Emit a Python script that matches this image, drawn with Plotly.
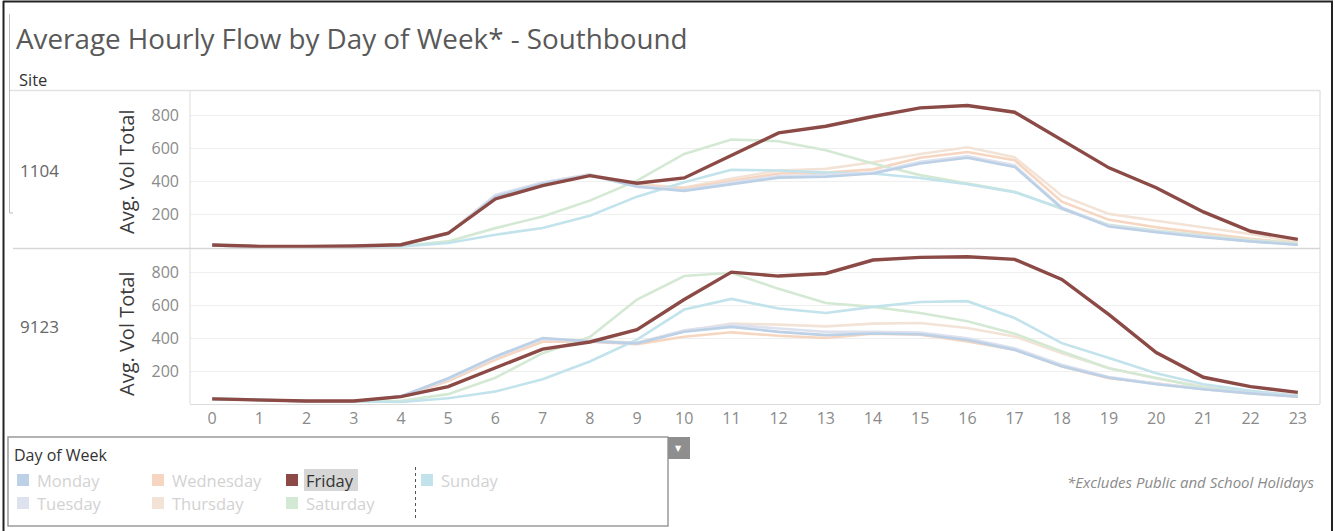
import plotly.graph_objects as go

W, H = 1335, 531

hours = list(range(24))
days = ["Monday", "Tuesday", "Wednesday", "Thursday", "Friday", "Saturday", "Sunday"]
sites = ["1104", "9123"]

site_1104 = {
    "Monday":    [15, 8, 8, 10, 20, 85, 310, 390, 440, 370, 345, 385, 425, 430, 450, 510, 545, 490, 240, 130, 95, 65, 40, 20],
    "Tuesday":   [15, 8, 8, 10, 20, 88, 320, 395, 445, 375, 350, 395, 435, 440, 455, 520, 555, 500, 245, 135, 100, 70, 42, 22],
    "Wednesday": [16, 9, 9, 11, 22, 90, 315, 392, 442, 380, 360, 405, 450, 455, 475, 545, 580, 530, 280, 170, 125, 90, 55, 28],
    "Thursday":  [16, 9, 9, 11, 22, 92, 318, 395, 445, 385, 365, 420, 468, 478, 518, 568, 608, 548, 316, 206, 165, 125, 85, 35],
    "Friday":    [18, 10, 10, 12, 20, 89, 296, 377, 437, 391, 423, 558, 695, 735, 794, 846, 860, 820, 649, 484, 364, 218, 101, 52],
    "Saturday":  [20, 10, 8, 8, 12, 40, 120, 190, 286, 407, 568, 655, 645, 590, 510, 440, 390, 340, 236, 140, 105, 75, 48, 28],
    "Sunday":    [20, 10, 8, 8, 10, 30, 80, 121, 195, 310, 397, 472, 468, 455, 450, 423, 385, 337, 240, 135, 100, 70, 40, 20],
}
site_9123 = {
    "Monday":    [30, 22, 17, 17, 48, 157, 290, 402, 382, 370, 440, 470, 440, 420, 430, 425, 390, 330, 230, 160, 120, 90, 65, 45],
    "Tuesday":   [30, 22, 17, 17, 46, 150, 285, 395, 385, 372, 450, 484, 460, 440, 440, 435, 400, 340, 240, 165, 125, 92, 68, 47],
    "Wednesday": [30, 22, 17, 17, 44, 140, 270, 380, 380, 365, 410, 437, 416, 402, 429, 422, 382, 331, 229, 157, 127, 90, 65, 45],
    "Thursday":  [30, 22, 17, 17, 44, 145, 275, 385, 385, 375, 445, 490, 484, 473, 490, 494, 463, 412, 310, 218, 157, 106, 75, 55],
    "Friday":    [31, 24, 18, 18, 45, 106, 218, 335, 378, 453, 637, 804, 780, 796, 878, 894, 898, 882, 759, 545, 314, 163, 106, 71],
    "Saturday":  [35, 25, 18, 15, 20, 60, 160, 310, 408, 637, 780, 800, 702, 616, 592, 555, 504, 429, 320, 218, 157, 100, 70, 50],
    "Sunday":    [35, 25, 18, 15, 12, 35, 76, 151, 259, 392, 576, 641, 582, 555, 592, 622, 627, 524, 371, 280, 188, 120, 80, 50],
}

colors = {
    "Monday": "#bcd0e6",
    "Tuesday": "#dde2ee",
    "Wednesday": "#f6d6c0",
    "Thursday": "#f3e3d7",
    "Friday": "#8b4a45",
    "Saturday": "#d4e9d3",
    "Sunday": "#c2e3eb",
}

title_text = "Average Hourly Flow by Day of Week* - Southbound"
footnote = "*Excludes Public and School Holidays"
y_title = "Avg. Vol Total"
y_ticks = [200, 400, 600, 800]

FONT = "Open Sans"


def px(x):
    return x / W


def py(y):
    return 1 - y / H


fig = go.Figure()

# draw order: faded days first, highlighted Friday last
order = ["Thursday", "Wednesday", "Saturday", "Sunday", "Tuesday", "Monday", "Friday"]
for i, data in enumerate([site_1104, site_9123]):
    xa = "x" if i == 0 else "x2"
    ya = "y" if i == 0 else "y2"
    for d in order:
        fig.add_trace(go.Scatter(
            x=hours, y=data[d], mode="lines", name=d, xaxis=xa, yaxis=ya,
            line=dict(color=colors[d], width=3.4 if d == "Friday" else 2.6, shape="linear"),
            showlegend=False, hoverinfo="skip",
        ))

pane_left, pane_right = 190, 1320
top_pane = (92, 248)
bot_pane = (249.5, 404)
yr = [0, 942]
xr = [-0.47, 23.47]

axis_common = dict(
    range=yr, tickvals=y_ticks, showgrid=True, gridcolor="#efefef", gridwidth=1,
    zeroline=False, showline=False, ticks="",
    tickfont=dict(family=FONT, size=16, color="#8a8a8a"), ticklabelstandoff=10,
)
fig.update_layout(
    width=W, height=H, autosize=False,
    margin=dict(l=0, r=0, t=0, b=0),
    paper_bgcolor="white", plot_bgcolor="white",
    font=dict(family=FONT),
    showlegend=False,
    xaxis=dict(domain=[px(pane_left), px(pane_right)], range=xr, showticklabels=False,
               showgrid=False, zeroline=False, showline=False, anchor="y"),
    yaxis=dict(domain=[py(top_pane[1]), py(top_pane[0])], anchor="x", **axis_common),
    xaxis2=dict(domain=[px(pane_left), px(pane_right)], range=xr, tickvals=hours,
                ticktext=[str(h) for h in hours], showgrid=False, zeroline=False,
                showline=True, linecolor="#dcdcdc", linewidth=1, ticks="",
                tickfont=dict(family=FONT, size=16, color="#8a8a8a"), anchor="y2"),
    yaxis2=dict(domain=[py(bot_pane[1]), py(bot_pane[0])], anchor="x2", **axis_common),
)

shapes = []
# outer frame
shapes.append(dict(type="line", xref="paper", yref="paper", x0=px(3.5), x1=px(3.5), y0=py(1), y1=py(531), line=dict(color="#222", width=2)))
shapes.append(dict(type="line", xref="paper", yref="paper", x0=px(3), x1=px(1333), y0=py(1.5), y1=py(1.5), line=dict(color="#222", width=2)))
shapes.append(dict(type="line", xref="paper", yref="paper", x0=px(1332), x1=px(1332), y0=py(1), y1=py(531), line=dict(color="#222", width=2)))
# inner left line of container
shapes.append(dict(type="line", xref="paper", yref="paper", x0=px(9.5), x1=px(9.5), y0=py(14), y1=py(213), line=dict(color="#bdbdbd", width=1)))
shapes.append(dict(type="line", xref="paper", yref="paper", x0=px(9.5), x1=px(13), y0=py(213), y1=py(213), line=dict(color="#bdbdbd", width=1)))
# header line, pane borders, separator
shapes.append(dict(type="line", xref="paper", yref="paper", x0=px(10), x1=px(pane_right), y0=py(90.5), y1=py(90.5), line=dict(color="#e3e3e3", width=1.5)))
shapes.append(dict(type="line", xref="paper", yref="paper", x0=px(pane_left), x1=px(pane_left), y0=py(90.5), y1=py(404), line=dict(color="#dcdcdc", width=1)))
shapes.append(dict(type="line", xref="paper", yref="paper", x0=px(pane_right), x1=px(pane_right), y0=py(90.5), y1=py(404), line=dict(color="#e3e3e3", width=1.5)))
shapes.append(dict(type="line", xref="paper", yref="paper", x0=px(13), x1=px(pane_right), y0=py(248.5), y1=py(248.5), line=dict(color="#d6d6d6", width=1.5)))

# legend box
shapes.append(dict(type="rect", xref="paper", yref="paper", x0=px(8), x1=px(668), y0=py(437), y1=py(526), line=dict(color="#9a9a9a", width=1.5), fillcolor="white"))
shapes.append(dict(type="rect", xref="paper", yref="paper", x0=px(668), x1=px(690), y0=py(437), y1=py(459), line=dict(width=0), fillcolor="#8e8e8e"))
shapes.append(dict(type="rect", xref="paper", yref="paper", x0=px(304), x1=px(358), y0=py(469), y1=py(491), line=dict(width=0), fillcolor="#d6d6d6"))
shapes.append(dict(type="line", xref="paper", yref="paper", x0=px(415.5), x1=px(415.5), y0=py(467), y1=py(518), line=dict(color="#555", width=1, dash="dot")))

legend_layout = [
    ("Monday", 17, 37, 480), ("Tuesday", 17, 37, 503),
    ("Wednesday", 152, 172, 480), ("Thursday", 152, 172, 503),
    ("Friday", 286, 306, 480), ("Saturday", 286, 306, 503),
    ("Sunday", 421, 441, 480),
]
annotations = []
for d, sx, tx, cy in legend_layout:
    shapes.append(dict(type="rect", xref="paper", yref="paper", x0=px(sx), x1=px(sx + 12), y0=py(cy - 6), y1=py(cy + 6),
                       line=dict(width=0), fillcolor=colors[d]))
    annotations.append(dict(xref="paper", yref="paper", x=px(tx - 2), y=py(cy), xanchor="left", yanchor="middle",
                            text=d, showarrow=False,
                            font=dict(family=FONT, size=16.5, color="#333333" if d == "Friday" else "#d2d2d2")))

annotations.append(dict(xref="paper", yref="paper", x=px(679), y=py(448), xanchor="center", yanchor="middle",
                        text="▼", showarrow=False, font=dict(family="DejaVu Sans", size=8, color="white")))
annotations.append(dict(xref="paper", yref="paper", x=px(12), y=py(455), xanchor="left", yanchor="middle",
                        text="Day of Week", showarrow=False, font=dict(family=FONT, size=16, color="#333333")))

# title and headers
annotations.append(dict(xref="paper", yref="paper", x=px(14), y=py(38), xanchor="left", yanchor="middle",
                        text=title_text, showarrow=False, font=dict(family=FONT, size=27.8, color="#595959")))
annotations.append(dict(xref="paper", yref="paper", x=px(17), y=py(79), xanchor="left", yanchor="middle",
                        text="Site", showarrow=False, font=dict(family=FONT, size=16.5, color="#333333")))
for s, cy in zip(sites, [170, 326]):
    annotations.append(dict(xref="paper", yref="paper", x=px(18), y=py(cy), xanchor="left", yanchor="middle",
                            text=s, showarrow=False, font=dict(family=FONT, size=17, color="#666666")))
for cy in [172, 334]:
    annotations.append(dict(xref="paper", yref="paper", x=px(126), y=py(cy), xanchor="center", yanchor="middle",
                            text=y_title, textangle=-90, showarrow=False,
                            font=dict(family=FONT, size=20, color="#3a3a3a")))
annotations.append(dict(xref="paper", yref="paper", x=px(1316), y=py(482), xanchor="right", yanchor="middle",
                        text="<i>" + footnote + "</i>", showarrow=False,
                        font=dict(family=FONT, size=15, color="#8a8a8a")))

fig.update_layout(shapes=shapes, annotations=annotations)
fig.write_html("out.html", config={"displayModeBar": False},
               post_script="document.body.style.margin='0px';")
